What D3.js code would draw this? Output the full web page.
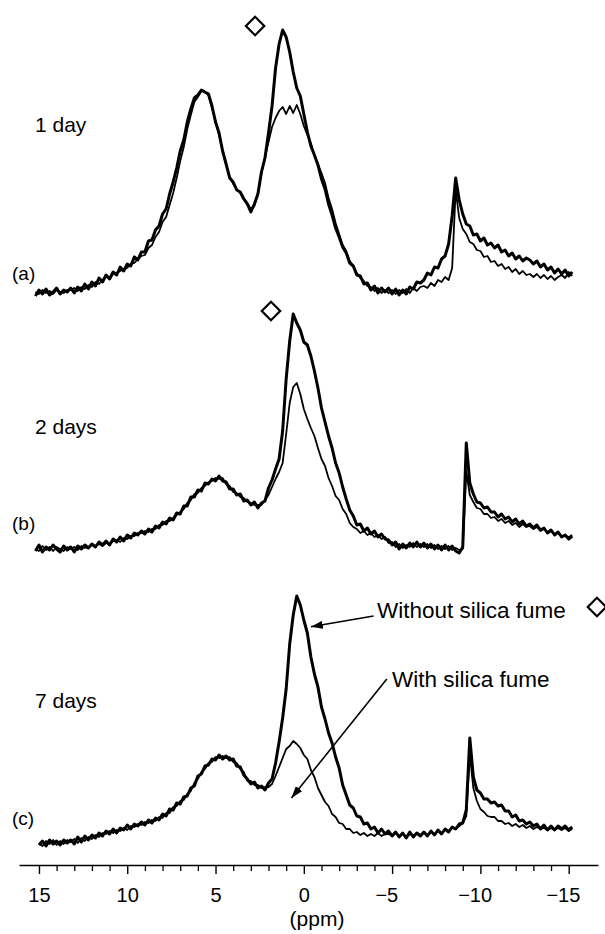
<!DOCTYPE html>
<html><head><meta charset="utf-8">
<script src="https://cdn.jsdelivr.net/npm/d3@7"></script>
<style>
html,body{margin:0;padding:0;background:#fff;}
svg{display:block;}
text{font-family:"Liberation Sans",Arial,Helvetica,sans-serif;fill:#000;}
</style></head><body>
<svg id="chart" width="605" height="934"></svg>
<script>
// chemical shift grid (ppm)
const ppm = [15.2,15,14.8,14.6,14.4,14.2,14,13.8,13.6,13.4,
13.2,13,12.8,12.6,12.4,12.2,12,11.8,11.6,11.4,
11.2,11,10.8,10.6,10.4,10.2,10,9.8,9.6,9.4,
9.2,9,8.8,8.6,8.4,8.2,8,7.8,7.6,7.4,
7.2,7,6.8,6.6,6.4,6.2,6,5.8,5.6,5.4,
5.2,5,4.8,4.6,4.4,4.2,4,3.8,3.6,3.4,
3.2,3,2.8,2.6,2.4,2.2,2,1.8,1.6,1.4,
1.2,1,0.8,0.6,0.4,0.2,0,-0.2,-0.4,-0.6,
-0.8,-1,-1.2,-1.4,-1.6,-1.8,-2,-2.2,-2.4,-2.6,
-2.8,-3,-3.2,-3.4,-3.6,-3.8,-4,-4.2,-4.4,-4.6,
-4.8,-5,-5.2,-5.4,-5.6,-5.8,-6,-6.2,-6.4,-6.6,
-6.8,-7,-7.2,-7.4,-7.6,-7.8,-8,-8.2,-8.4,-8.6,
-8.8,-9,-9.2,-9.4,-9.6,-9.8,-10,-10.2,-10.4,-10.6,
-10.8,-11,-11.2,-11.4,-11.6,-11.8,-12,-12.2,-12.4,-12.6,
-12.8,-13,-13.2,-13.4,-13.6,-13.8,-14,-14.2,-14.4,-14.6,
-14.8,-15,-15.2];

// (a) 1 day
const aWithout = [2,5,3,5.5,2.5,4,6,3,5,4,
6,3.5,6.5,4.5,8,5.5,9,7,11,9,
12.5,10.5,14,12.5,16.5,14.5,18,17,21.5,20,
24,24,29.5,30,35,37,43,45.5,53,59,
66,74.5,80,89,95.5,101,102.5,105,104,103,
97,89,83.5,74.5,68,61,59,55,54,50.5,
48,44,48,53,64,71,83.5,97,116,128,
135,131.5,124,114,106,102,93,84,77,72.5,
67.5,60.5,55.5,48,42.5,36,31.5,26.5,23.5,18.5,
17,12.5,12,8,8.5,5,7,3.5,6,4,
6,3,5.5,2.5,5,3,6.5,5.5,9,8.5,
10,13.5,12.5,16.5,16,20.5,22,28,42,61,
50,43,38,37,32.5,33,29.5,31,27.5,28.5,
26,27.5,24,25,22,23.5,20.5,22,19.5,21,
20,18,19.5,16.5,18,15,16.5,13.5,15.5,13,
15,12,14];
const aWith = [4,3,5,3.5,4.5,3,5,4,3.5,5,
5,6,4.5,6.5,5.5,7.5,6.5,9,8,10,
11.5,11,13,13.5,14.5,15.5,16,18,18.5,20.5,
22,22.5,26,27.5,31.5,34,39,41.5,47.5,53.5,
61,69.5,76.5,85.5,92.5,99,101.5,104.5,104,102.5,
96,89.5,82.5,75,67.5,62,58,55.5,53.5,51,
48.5,45.5,47,53.5,63.5,71.5,79,86.5,91,94.5,
96.5,93,97,93.5,97.5,93,87,82.5,78.5,72,
68,63.5,58.5,51,45.5,38.5,33,27.5,24.5,19.5,
17,13.5,11,9.5,7,6.5,4.5,6,3.5,5,
3.5,5,3,5,3.5,5.5,3.5,6,4.5,6.5,
7,6,8.5,7,10,9,11.5,10,16,55,
41,35.5,33,29,28,25,24.5,21.5,22,19,
19.5,17,18,15.5,16.5,14,15.5,13,14.5,12.5,
13,11.5,13,11,12.5,10.5,12,10,11.5,12.5,
11,14,12];

// (b) 2 days
const bWithout = [2,5,1.5,4,2.5,5,3,1.5,4.5,2.5,
4,1.5,4.5,3,5,3.5,5.5,4,6.5,5,
7,5,8,6.5,9,7,10,8.5,11,10,
12,10.5,13,11.5,14.5,13.5,16.5,15.5,18.5,17.5,
21,20.5,24.5,24.5,29,29,32.5,32,36,35.5,
38,37,39.5,37,36.5,33,33,30,30.5,27,
27.5,25,26.5,23.5,26,27,33.5,37.5,43,48,
62,88,107,120.5,116,112.5,106.5,105,99.5,92,
83.5,73.5,66.5,59.5,53.5,46,41,34,28,22.5,
19.5,15,15.5,12,13.5,10.5,12,9,10.5,8,
7.5,5,6.5,3,5.5,3.5,6,4,6.5,4,
6,3.5,5.5,3,5,2.5,5,2.5,4.5,2,
1,4,56,36,30.5,26.5,26,23.5,24,21.5,
21.5,19,20.5,18,19,16.5,18,15.5,17,14.5,
15.5,13.5,15,12.5,13.5,11,12.5,10,11.5,9,
10,8,9.5];
const bWith = [3,2,4.5,2.5,4,2,4,3,2,4,
3,4,2.5,4.5,3.5,4,5,4.5,5.5,4.5,
6,5.5,7,7.5,6.5,8.5,8,9.5,9.5,11,
11,12,11.5,13,13,15,15,17,17,18.5,
20,21.5,23,26,27.5,30.5,31,33.5,34.5,36.5,
37,38.5,38,38.5,35.5,34.5,31.5,31,29,28.5,
26.5,26,25,25,25,27.5,30,34,38,41.5,
46,60.5,76,84,86,80.5,73,68,63.5,59.5,
53.5,48,44.5,38.5,34.5,29.5,27.5,23,20.5,16,
14,13,11,12,10,11,9,10,8,9,
6,6.5,4,5.5,3.5,5,4,6,4,5.5,
4,5.5,3.5,5,3,4.5,3,4.5,2.5,3.5,
2.5,3,42,30,26.5,23.5,23,20.5,20.5,18.5,
19,17,18,16,17,15,16,14,15.5,14,
14.5,13,14,12,13,11,12,10.5,11,9.5,
9.5,9,10];

// (c) 7 days
const cWithout = [null,2.5,4.5,2,5,3,4.5,2.5,5,3.5,
5,3,6.5,4,7,5,7.5,6,8.5,7,
9.5,8,10.5,8.5,11,10,12.5,10.5,13,12,
14,12.5,15,13.5,16,15,18,17,20.5,20,
23.5,23,26.5,27,31,32,37,38,42,42.5,
45.5,45,47.5,45.5,47,45,45.5,42,41.5,37.5,
35.5,33,34,31,32,30,33.5,35.5,43.5,54,
66,80.5,103,117.5,127,122.5,115,108.5,96.5,88,
81.5,71.5,65.5,58.5,53.5,46.5,41,32.5,27.5,22.5,
21,17,16.5,13,13.5,10.5,11.5,8.5,10.5,8,
9.5,7,9,6.5,8.5,6,9,6.5,8.5,7,
9,7,9.5,7.5,10,8,10.5,9,11.5,10.5,
13,13.5,20,56,36.5,30,28.5,25.5,25.5,23.5,
24,22,22.5,19.5,19.5,16.5,17.5,14.5,15,13,
14,12,13,10.5,12.5,10,12,10,12,10.5,
12,10,11.5];
const cWith = [null,3.5,2,4.5,3,5,2.5,4.5,3,5,
4,5.5,3.5,6,4.5,6.5,5.5,7.5,6.5,8.5,
8,9.5,8.5,10,9.5,11,10,12,11.5,13,
12.5,14,13.5,15,14.5,16.5,16,18.5,18.5,21.5,
22,24.5,25,28,29.5,33.5,35.5,39,40.5,43.5,
44,46.5,46,47,46,46.5,44,43.5,40.5,39,
34.5,34.5,32.5,32.5,31,31.5,31.5,33,37,41.5,
46,50.5,52,54.5,53,51,47.5,45.5,40,36.5,
31,27.5,24,22,18,16.5,13.5,13,10.5,10.5,
8.5,9,7.5,8.5,7,8,7,8.5,7,8,
8,7,8.5,7,8,6.5,8,7,8.5,7.5,
8.5,7.5,9,8,9.5,8.5,10,9.5,11,10.5,
12,13.5,17,48,31,24.5,20.5,19,17,16.5,
16.5,14.5,14.5,13,13.5,12,13,11.5,12.5,11,
12,10.5,11.5,10.5,11,10,11,10,11,10,
11,9.5,10.5];

const dayLabels = ["1 day", "2 days", "7 days"];
const panelLabels = ["(a)", "(b)", "(c)"];
const majorTicks = [15, 10, 5, 0, -5, -10, -15];
const minorTicks = [14,13,12,11,9,8,7,6,4,3,2,1,-1,-2,-3,-4,-6,-7,-8,-9,-11,-12,-13,-14];
// diamond marker (ppm, intensity) per panel
const markerPpm = [2.76, 1.86, -16.6];
const markerIntensity = [137, 122, 121.5];
// annotations in panel (c)
const annoText = ["Without silica fume", "With silica fume"];
const annoTextPpm = [-4.14, -4.99];
const annoTextInt = [116, 81.5];
const arrowFromPpm = [-3.95, -4.7];
const arrowFromInt = [117, 85.5];
const arrowToPpm = [-0.4, 0.7];
const arrowToInt = [111.6, 26];

// ---------------- drawing ----------------
const svg = d3.select("#chart");
const x = d3.scaleLinear().domain([16.13, -16.66]).range([19, 598]);
const panelBase = [300, 555, 850];
const dayLabelInt = [84, 60.5, 71];
const letterInt = [10, 12.5, 12.5];
const series = [[aWithout, aWith], [bWithout, bWith], [cWithout, cWith]];

const defs = svg.append("defs");
defs.append("marker").attr("id", "arr")
  .attr("viewBox", "0 0 12 8").attr("refX", 12).attr("refY", 4)
  .attr("markerWidth", 12).attr("markerHeight", 8)
  .attr("markerUnits", "userSpaceOnUse").attr("orient", "auto")
  .append("path").attr("d", "M0,0L12,4L0,8Z").attr("fill", "#000");

const yScales = panelBase.map(b => d3.scaleLinear().domain([0, 150]).range([b, b - 300]));

series.forEach((pair, k) => {
  const y = yScales[k];
  const line = d3.line().defined(d => d[1] != null).x(d => x(d[0])).y(d => y(d[1]));
  const g = svg.append("g");
  g.append("path").datum(ppm.map((p, i) => [p, pair[1][i]]))
    .attr("d", line).attr("fill", "none").attr("stroke", "#000")
    .attr("stroke-width", 1.8).attr("stroke-linejoin", "round");
  g.append("path").datum(ppm.map((p, i) => [p, pair[0][i]]))
    .attr("d", line).attr("fill", "none").attr("stroke", "#000")
    .attr("stroke-width", 3).attr("stroke-linejoin", "round");
  g.append("path").attr("d", d3.symbol(d3.symbolSquare, 170)())
    .attr("transform", `translate(${x(markerPpm[k])},${y(markerIntensity[k])}) rotate(45)`)
    .attr("fill", "#fff").attr("stroke", "#000").attr("stroke-width", 2.2);
  g.append("text").attr("x", 35).attr("y", y(dayLabelInt[k]))
    .attr("font-size", 21).text(dayLabels[k]);
  g.append("text").attr("x", 12).attr("y", y(letterInt[k]))
    .attr("font-size", 19).text(panelLabels[k]);
});

// annotations in panel (c)
const yc = yScales[2];
annoText.forEach((t, i) => {
  svg.append("text").attr("x", x(annoTextPpm[i])).attr("y", yc(annoTextInt[i]))
    .attr("font-size", 22.5).text(t);
  svg.append("line")
    .attr("x1", x(arrowFromPpm[i])).attr("y1", yc(arrowFromInt[i]))
    .attr("x2", x(arrowToPpm[i])).attr("y2", yc(arrowToInt[i]))
    .attr("stroke", "#000").attr("stroke-width", 1.6)
    .attr("marker-end", "url(#arr)");
});

// axis
const axisY = 865;
const gMinor = svg.append("g").attr("transform", `translate(0,${axisY})`)
  .call(d3.axisBottom(x).tickValues(minorTicks).tickSize(6).tickSizeOuter(0).tickFormat(""));
gMinor.select(".domain").remove();
gMinor.selectAll(".tick line").attr("stroke", "#000").attr("stroke-width", 1.3);

const gMajor = svg.append("g").attr("transform", `translate(0,${axisY})`)
  .call(d3.axisBottom(x).tickValues(majorTicks).tickSize(9).tickSizeOuter(0).tickPadding(14));
gMajor.attr("font-family", '"Liberation Sans",Arial,Helvetica,sans-serif').attr("font-size", 20);
gMajor.select(".domain").attr("stroke", "#000").attr("stroke-width", 1.5);
gMajor.selectAll(".tick line").attr("stroke", "#000").attr("stroke-width", 1.4);
gMajor.selectAll(".tick text").attr("fill", "#000")
  .attr("dx", d => d < 0 ? "-0.29em" : null);

svg.append("text").attr("x", 317).attr("y", 926).attr("text-anchor", "middle")
  .attr("font-size", 21).text("(ppm)");
</script>
</body></html>
